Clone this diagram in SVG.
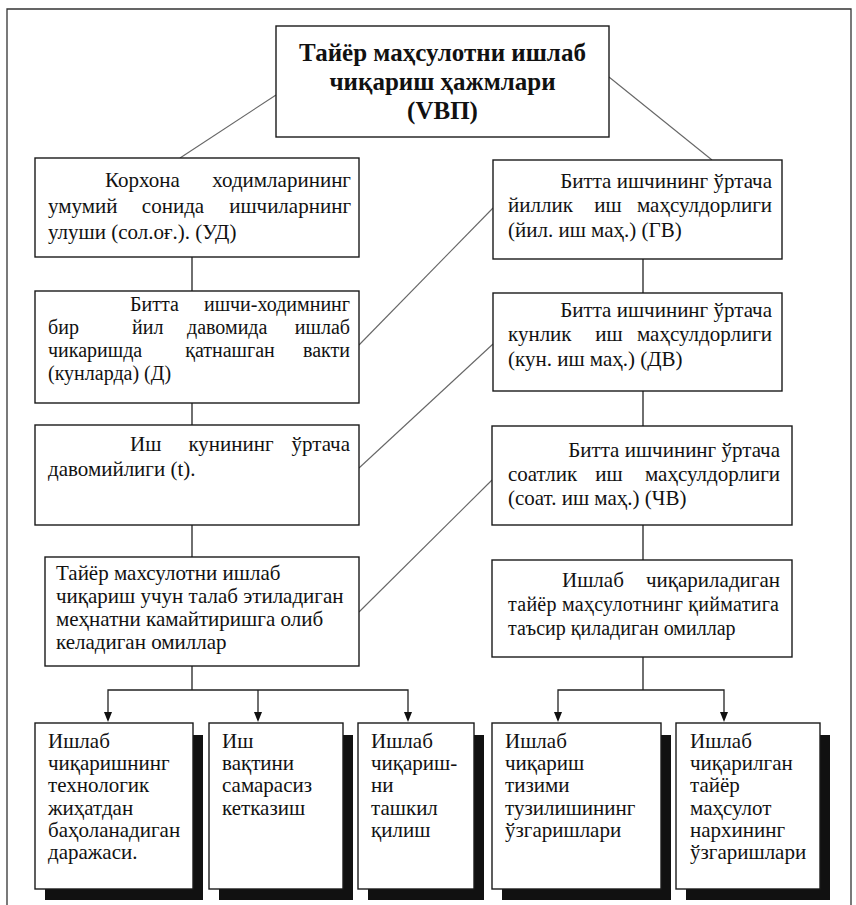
<svg xmlns="http://www.w3.org/2000/svg" width="856" height="905" viewBox="0 0 856 905">
<style>
  .box { fill: #fff; stroke: #1a1a1a; stroke-width: 1.4; }
  .shadow { fill: #111; stroke: none; }
  .frame { fill: none; stroke: #333; stroke-width: 1.3; }
  .line { fill: none; stroke: #222; stroke-width: 1.3; }
  .diag { fill: none; stroke: #666; stroke-width: 1.1; }
  text { font-family: "Liberation Serif", "Times New Roman", serif; fill: #111; }
  .title { font-size: 25px; font-weight: bold; text-anchor: middle; }
  .t21 { font-size: 21px; }
  .t20 { font-size: 20px; }
  .end { text-anchor: end; }
  .mid { text-anchor: middle; }
</style>
<rect width="856" height="905" fill="#fff"/>
<path class="frame" d="M7,905 V9 H851 V905"/>

<g id="connectors">
  <line class="diag" x1="276" y1="95" x2="180" y2="158"/>
  <line class="diag" x1="609" y1="77" x2="712" y2="160"/>
  <line class="diag" x1="359" y1="345" x2="493" y2="208"/>
  <line class="diag" x1="359" y1="468" x2="493" y2="344"/>
  <line class="diag" x1="359" y1="612" x2="492" y2="480"/>
  <line class="line" x1="192" y1="257" x2="192" y2="291"/>
  <line class="line" x1="192" y1="393" x2="192" y2="425"/>
  <line class="line" x1="192" y1="525" x2="192" y2="557"/>
  <line class="line" x1="192" y1="666" x2="192" y2="690"/>
  <line class="line" x1="643" y1="259" x2="643" y2="293"/>
  <line class="line" x1="643" y1="391" x2="643" y2="426"/>
  <line class="line" x1="643" y1="525" x2="643" y2="560"/>
  <line class="line" x1="643" y1="657" x2="643" y2="690"/>
  <path class="line" d="M108,714 V690 H408 V714"/>
  <line class="line" x1="258" y1="690" x2="258" y2="714"/>
  <path class="line" d="M558,714 V690 H724 V714"/>
  <g fill="#111">
    <path d="M104,712 L112,712 L108,722 z"/>
    <path d="M254,712 L262,712 L258,722 z"/>
    <path d="M404,712 L412,712 L408,722 z"/>
    <path d="M554,712 L562,712 L558,722 z"/>
    <path d="M720,712 L728,712 L724,722 z"/>
  </g>
</g>

<g id="n-top">
  <rect class="box" x="276" y="26" width="333" height="111"/>
  <text class="title" x="442.5" y="61">Тайёр маҳсулотни ишлаб</text>
  <text class="title" x="442.5" y="90">чиқариш ҳажмлари</text>
  <text class="title" x="442.5" y="119">(VBП)</text>
</g>

<g id="n-ud">
  <rect class="box" x="35" y="158" width="324" height="99"/>
  <text class="t21" y="187"><tspan x="105">Корхона</tspan><tspan x="351" class="end">ходимларининг</tspan></text>
  <text class="t21" y="213"><tspan x="48">умумий</tspan><tspan x="173" class="mid">сонида</tspan><tspan x="351" class="end">ишчиларнинг</tspan></text>
  <text class="t21" x="48" y="239">улуши (сол.оғ.). (УД)</text>
</g>

<g id="n-d">
  <rect class="box" x="35" y="291" width="324" height="112"/>
  <text class="t20" y="311"><tspan x="130">Битта</tspan><tspan x="350" class="end">ишчи-ходимнинг</tspan></text>
  <text class="t20" y="334"><tspan x="48">бир</tspan><tspan x="132">йил</tspan><tspan x="187">давомида</tspan><tspan x="350" class="end">ишлаб</tspan></text>
  <text class="t20" y="357"><tspan x="48">чикаришда</tspan><tspan x="230" class="mid">қатнашган</tspan><tspan x="350" class="end">вакти</tspan></text>
  <text class="t20" x="48" y="380">(кунларда)  (Д)</text>
</g>

<g id="n-t">
  <rect class="box" x="35" y="425" width="324" height="100"/>
  <text class="t21" y="451"><tspan x="130">Иш</tspan><tspan x="231" class="mid">кунининг</tspan><tspan x="350" class="end">ўртача</tspan></text>
  <text class="t21" x="48" y="476">давомийлиги (t).</text>
</g>

<g id="n-left-factors">
  <rect class="box" x="45" y="557" width="314" height="109"/>
  <text class="t21" x="56" y="580">Тайёр махсулотни ишлаб</text>
  <text class="t21" x="56" y="603">чиқариш учун талаб этиладиган</text>
  <text class="t21" x="56" y="626">меҳнатни камайтиришга олиб</text>
  <text class="t21" x="56" y="649">келадиган омиллар</text>
</g>

<g id="n-gv">
  <rect class="box" x="493" y="160" width="289" height="99"/>
  <text class="t21 end" x="772" y="188">Битта ишчининг ўртача</text>
  <text class="t21" y="212"><tspan x="508">йиллик</tspan><tspan x="608" class="mid">иш</tspan><tspan x="772" class="end">маҳсулдорлиги</tspan></text>
  <text class="t21" x="508" y="237">(йил. иш маҳ.)  (ГВ)</text>
</g>

<g id="n-dv">
  <rect class="box" x="493" y="293" width="289" height="98"/>
  <text class="t21 end" x="772" y="317">Битта ишчининг ўртача</text>
  <text class="t21" y="341"><tspan x="508">кунлик</tspan><tspan x="609" class="mid">иш</tspan><tspan x="772" class="end">маҳсулдорлиги</tspan></text>
  <text class="t21" x="508" y="366">(кун. иш маҳ.)  (ДВ)</text>
</g>

<g id="n-chv">
  <rect class="box" x="492" y="426" width="300" height="99"/>
  <text class="t21 end" x="780" y="457">Битта ишчининг ўртача</text>
  <text class="t21" y="481"><tspan x="508">соатлик</tspan><tspan x="609" class="mid">иш</tspan><tspan x="780" class="end">маҳсулдорлиги</tspan></text>
  <text class="t21" x="508" y="505">(соат. иш маҳ.)  (ЧВ)</text>
</g>

<g id="n-right-factors">
  <rect class="box" x="492" y="560" width="300" height="97"/>
  <text class="t21" y="587"><tspan x="562">Ишлаб</tspan><tspan x="780" class="end">чиқариладиган</tspan></text>
  <text class="t20" x="508" y="611" textLength="271" lengthAdjust="spacing">тайёр маҳсулотнинг қийматига</text>
  <text class="t20" x="508" y="635">таъсир қиладиган омиллар</text>
</g>

<g id="n-b1">
  <rect class="shadow" x="45" y="735" width="158" height="165"/>
  <rect class="box" x="35" y="723" width="158" height="166"/>
  <text class="t21" x="48" y="748">Ишлаб</text>
  <text class="t21" x="48" y="770">чиқаришнинг</text>
  <text class="t21" x="48" y="792">технологик</text>
  <text class="t21" x="48" y="815">жиҳатдан</text>
  <text class="t21" x="48" y="837">баҳоланадиган</text>
  <text class="t21" x="48" y="859">даражаси.</text>
</g>

<g id="n-b2">
  <rect class="shadow" x="219" y="735" width="134" height="165"/>
  <rect class="box" x="209" y="723" width="134" height="166"/>
  <text class="t21" x="222" y="748">Иш</text>
  <text class="t21" x="222" y="770">вақтини</text>
  <text class="t21" x="222" y="792">самарасиз</text>
  <text class="t21" x="222" y="815">кетказиш</text>
</g>

<g id="n-b3">
  <rect class="shadow" x="368" y="735" width="116" height="165"/>
  <rect class="box" x="358" y="723" width="116" height="166"/>
  <text class="t21" x="371" y="748">Ишлаб</text>
  <text class="t21" x="371" y="770">чиқариш-</text>
  <text class="t21" x="371" y="792">ни</text>
  <text class="t21" x="371" y="815">ташкил</text>
  <text class="t21" x="371" y="837">қилиш</text>
</g>

<g id="n-b4">
  <rect class="shadow" x="502" y="735" width="169" height="165"/>
  <rect class="box" x="492" y="723" width="169" height="166"/>
  <text class="t21" x="505" y="748">Ишлаб</text>
  <text class="t21" x="505" y="770">чиқариш</text>
  <text class="t21" x="505" y="792">тизими</text>
  <text class="t21" x="505" y="815">тузилишининг</text>
  <text class="t21" x="505" y="837">ўзгаришлари</text>
</g>

<g id="n-b5">
  <rect class="shadow" x="686" y="735" width="144" height="165"/>
  <rect class="box" x="676" y="723" width="144" height="166"/>
  <text class="t21" x="690" y="748">Ишлаб</text>
  <text class="t21" x="690" y="770">чиқарилган</text>
  <text class="t21" x="690" y="792">тайёр</text>
  <text class="t21" x="690" y="815">маҳсулот</text>
  <text class="t21" x="690" y="837">нархининг</text>
  <text class="t21" x="690" y="859">ўзгаришлари</text>
</g>
</svg>
